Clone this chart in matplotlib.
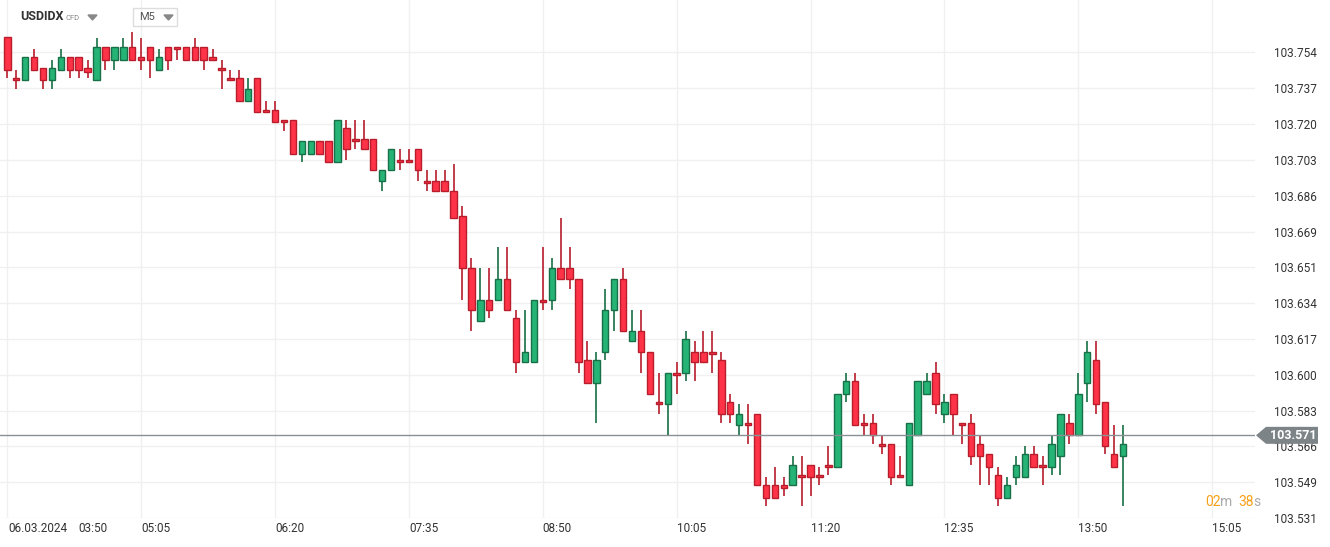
import matplotlib
matplotlib.use("Agg")
import matplotlib.pyplot as plt
from matplotlib.patches import Polygon, Rectangle
import numpy as np

plt.rcParams['font.family'] = ['Roboto', 'DejaVu Sans']

opens = [103.762,103.742,103.741,103.752,103.747,103.741,103.746,103.752,103.752,103.747,
         103.741,103.757,103.751,103.751,103.757,103.752,103.757,103.746,103.757,103.757,
         103.757,103.757,103.757,103.752,103.747,103.742,103.742,103.731,103.742,103.727,
         103.727,103.722,103.722,103.706,103.706,103.712,103.712,103.702,103.718,103.713,
         103.713,103.713,103.693,103.698,103.703,103.703,103.708,103.693,103.693,103.693,
         103.688,103.676,103.651,103.626,103.636,103.636,103.646,103.627,103.606,103.606,
         103.636,103.636,103.651,103.651,103.646,103.607,103.596,103.611,103.631,103.646,
         103.616,103.621,103.611,103.587,103.586,103.601,103.601,103.611,103.611,103.611,
         103.607,103.587,103.576,103.577,103.581,103.547,103.547,103.547,103.547,103.552,
         103.557,103.552,103.557,103.556,103.591,103.597,103.577,103.577,103.567,103.567,
         103.552,103.547,103.571,103.591,103.601,103.581,103.591,103.577,103.577,103.567,
         103.562,103.552,103.541,103.551,103.551,103.562,103.557,103.556,103.561,103.577,
         103.571,103.596,103.607,103.587,103.562,103.561]
highs = [103.762,103.746,103.752,103.756,103.747,103.751,103.756,103.752,103.752,103.751,
         103.7615,103.757,103.757,103.7615,103.764,103.7615,103.757,103.756,103.757,103.757,
         103.757,103.7615,103.757,103.756,103.751,103.746,103.746,103.742,103.742,103.731,
         103.731,103.722,103.722,103.712,103.712,103.712,103.712,103.722,103.722,103.722,
         103.722,103.713,103.698,103.708,103.708,103.708,103.708,103.698,103.698,103.698,
         103.701,103.681,103.656,103.651,103.651,103.661,103.661,103.631,103.631,103.636,
         103.661,103.656,103.675,103.661,103.646,103.616,103.611,103.641,103.646,103.651,
         103.631,103.631,103.611,103.601,103.601,103.606,103.621,103.616,103.621,103.621,
         103.611,103.591,103.586,103.586,103.581,103.551,103.556,103.551,103.561,103.561,
         103.557,103.556,103.566,103.591,103.601,103.601,103.581,103.581,103.571,103.567,
         103.561,103.577,103.597,103.601,103.606,103.591,103.591,103.577,103.581,103.571,
         103.562,103.556,103.551,103.561,103.566,103.566,103.561,103.571,103.581,103.581,
         103.601,103.616,103.616,103.587,103.576,103.576]
lows = [103.742,103.737,103.741,103.746,103.737,103.737,103.746,103.742,103.742,103.742,
        103.741,103.746,103.746,103.751,103.751,103.746,103.742,103.746,103.746,103.751,
        103.751,103.751,103.746,103.751,103.737,103.741,103.731,103.731,103.726,103.726,
        103.721,103.717,103.706,103.702,103.706,103.706,103.702,103.702,103.703,103.708,
        103.708,103.698,103.688,103.698,103.698,103.702,103.693,103.688,103.688,103.688,
        103.675,103.636,103.621,103.626,103.627,103.636,103.631,103.601,103.606,103.606,
        103.631,103.631,103.646,103.641,103.601,103.596,103.577,103.607,103.621,103.621,
        103.616,103.601,103.591,103.581,103.571,103.591,103.597,103.597,103.606,103.601,
        103.577,103.577,103.571,103.567,103.547,103.537,103.541,103.542,103.547,103.537,
        103.542,103.547,103.552,103.556,103.587,103.576,103.571,103.567,103.562,103.547,
        103.551,103.547,103.571,103.591,103.581,103.577,103.571,103.567,103.557,103.547,
        103.547,103.537,103.541,103.547,103.551,103.556,103.547,103.552,103.552,103.567,
        103.571,103.587,103.581,103.562,103.556,103.537]
closes = [103.746,103.741,103.752,103.746,103.741,103.747,103.752,103.746,103.746,103.745,
          103.757,103.751,103.757,103.757,103.751,103.751,103.751,103.752,103.751,103.756,
          103.751,103.751,103.751,103.751,103.746,103.741,103.731,103.737,103.726,103.726,
          103.721,103.721,103.706,103.712,103.712,103.706,103.702,103.722,103.708,103.712,
          103.708,103.698,103.698,103.708,103.702,103.702,103.698,103.692,103.688,103.688,
          103.675,103.651,103.631,103.636,103.631,103.646,103.631,103.606,103.611,103.636,
          103.635,103.651,103.646,103.646,103.606,103.596,103.607,103.631,103.646,103.621,
          103.621,103.611,103.591,103.586,103.601,103.600,103.617,103.606,103.606,103.610,
          103.581,103.581,103.581,103.576,103.547,103.541,103.541,103.546,103.557,103.551,
          103.551,103.551,103.556,103.591,103.597,103.576,103.576,103.571,103.566,103.551,
          103.551,103.577,103.597,103.597,103.586,103.587,103.581,103.576,103.561,103.561,
          103.556,103.541,103.547,103.557,103.562,103.556,103.556,103.567,103.581,103.571,
          103.591,103.611,103.586,103.566,103.556,103.567]

current_price = 103.571
y_ticks = [103.5314 + 0.017154 * k for k in range(14)]
time_labels = ["03:50", "05:05", "06:20", "07:35", "08:50", "10:05", "11:20", "12:35", "13:50", "15:05"]
date_label = "06.03.2024"

W, H = 1330, 547
fig = plt.figure(figsize=(W/100, H/100), dpi=100)
ax = fig.add_axes([0, 29/H, 1255/W, 1 - 29/H])
x0 = -7.3/8.925
ax.set_xlim(x0, x0 + 1255/8.925)
ax.set_ylim(103.6 - 139.7/2107, 103.6 + 378.3/2107)

for s in ax.spines.values():
    s.set_visible(False)
ax.set_xticks([])
ax.yaxis.tick_right()
ax.set_yticks(y_ticks)
ax.set_yticklabels([f"{v:.3f}" for v in y_ticks], fontsize=8.5, color='#333333')
ax.tick_params(axis='y', length=0, pad=14)
for v in y_ticks:
    ax.axhline(v, color='#f0f0f0', lw=1, zorder=0)
for k in range(len(time_labels)):
    ax.axvline(15*k, color='#f0f0f0', lw=1, zorder=0)

red_f, red_e = '#ff3347', '#b81d2c'
grn_f, grn_e = '#25b475', '#177047'
for i in range(len(opens)):
    o, h, l, c = opens[i], highs[i], lows[i], closes[i]
    up = c > o
    fc, ec = (grn_f, grn_e) if up else (red_f, red_e)
    ax.vlines(i, l, h, color=ec, lw=1.2, zorder=2)
    bot = min(o, c)
    hgt = max(abs(c - o), 0.0009)
    ax.bar(i, hgt, bottom=bot, width=0.72, color=fc, edgecolor=ec, linewidth=1, zorder=3)

ax.axhline(current_price, color='#8a8f94', lw=1, zorder=4)

# price tag
ty = ax.transData.transform((0, current_price))[1]
tfrac = ty / H
tag = Polygon([(1256/W, tfrac), (1266/W, tfrac + 8.5/H), (1318/W, tfrac + 8.5/H),
               (1318/W, tfrac - 8.5/H), (1266/W, tfrac - 8.5/H)],
              closed=True, transform=fig.transFigure, facecolor='#7d8488',
              edgecolor='none', zorder=5)
fig.add_artist(tag)
fig.text(1293/W, tfrac, f"{current_price:.3f}", color='white', fontsize=9,
         fontweight='bold', ha='center', va='center', zorder=10)

# time labels
ly = 1 - 528/H
fig.text(8/W, ly, date_label, fontsize=8.5, color='#333333', va='center')
fig.text(78/W, ly, time_labels[0], fontsize=8.5, color='#333333', va='center')
for k in range(1, len(time_labels)):
    xp = 7.3 + 15*k*8.925
    fig.text(xp/W, ly, time_labels[k], fontsize=8.5, color='#333333', va='center')

# header
fig.text(20/W, 1 - 17/H, "USDIDX", fontsize=9, fontweight='bold', color='#333333', va='center')
fig.text(66/W, 1 - 18/H, "CFD", fontsize=5.5, color='#888888', va='center')
fig.add_artist(Polygon([(88/W, 1-15/H), (97/W, 1-15/H), (92.5/W, 1-20/H)],
                       transform=fig.transFigure, color='#888888'))
fig.add_artist(Rectangle((133/W, 1-26/H), 44/W, 18/H, transform=fig.transFigure,
                         fill=False, edgecolor='#dddddd', lw=1))
fig.text(139/W, 1 - 17/H, "M5", fontsize=8, color='#555555', va='center')
fig.add_artist(Polygon([(164/W, 1-15/H), (173/W, 1-15/H), (168.5/W, 1-20/H)],
                       transform=fig.transFigure, color='#888888'))

# countdown
cy = 1 - 502/H
fig.text(1205/W, cy, "02", fontsize=10, color='#f7a11a', va='center')
fig.text(1220/W, cy, "m", fontsize=10, color='#aaaaaa', va='center')
fig.text(1238/W, cy, "38", fontsize=10, color='#f7a11a', va='center')
fig.text(1253/W, cy, "s", fontsize=10, color='#aaaaaa', va='center')

fig.savefig("out.png", dpi=100, facecolor='white')
